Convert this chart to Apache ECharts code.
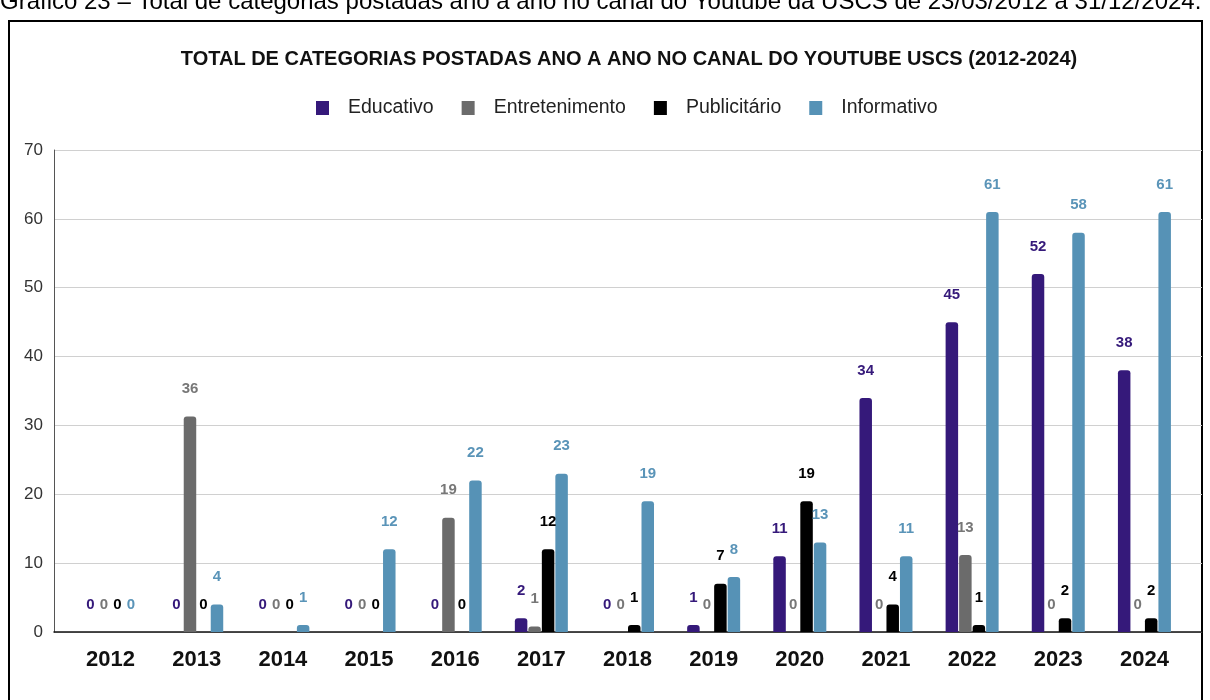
<!DOCTYPE html>
<html>
<head>
<meta charset="utf-8">
<script src="https://cdn.jsdelivr.net/npm/echarts@6/dist/echarts.min.js"></script>
<style>
html,body{margin:0;padding:0;background:#fff;}
#c{width:1210px;height:700px;}
</style>
</head>
<body>
<div id="c"></div>
<script>
const years = ['2012','2013','2014','2015','2016','2017','2018','2019','2020','2021','2022','2023','2024'];
const educativo      = [0, 0, 0, 0, 0, 2, 0, 1, 11, 34, 45, 52, 38];
const entretenimento = [0, 31.3, 0, 0, 16.6, 0.8, 0, 0, 0, 0, 11.2, 0, 0];
const entretenimentoLabels = ['0','36','0','0','19','1','0','0','0','0','13','0','0'];
const publicitario   = [0, 0, 0, 0, 0, 12, 1, 7, 19, 4, 1, 2, 2];
const informativo    = [0, 4, 1, 12, 22, 23, 19, 8, 13, 11, 61, 58, 61];
const yTicks = [0, 10, 20, 30, 40, 50, 60, 70];
const titleText = 'TOTAL DE CATEGORIAS POSTADAS ANO A ANO NO CANAL DO YOUTUBE USCS (2012-2024)';
const captionText = 'Gráfico 23 – Total de categorias postadas ano a ano no canal do Youtube da USCS de 23/03/2012 a 31/12/2024.';

const colors = ['#35197a', '#6b6b6b', '#000000', '#5692b6'];
const labelColors = ['#35197a', '#777777', '#000000', '#5a94b8'];
const names = ['Educativo', 'Entretenimento', 'Publicitário', 'Informativo'];
const dataSets = [educativo, entretenimento, publicitario, informativo];

const FONT = 'Liberation Sans, Arial, sans-serif';
const chart = echarts.init(document.getElementById('c'));

const series = dataSets.map((d, i) => ({
  name: names[i],
  type: 'bar',
  xAxisIndex: 1,
  yAxisIndex: 1,
  data: d,
  barWidth: 12.5,
  barGap: '8%',
  itemStyle: { color: colors[i], borderRadius: [3, 3, 0, 0] },
  label: {
    show: true,
    position: 'top',
    distance: 20,
    color: labelColors[i],
    fontFamily: FONT,
    fontWeight: 'bold',
    fontSize: 15,
    formatter: i === 1 ? (p => entretenimentoLabels[p.dataIndex]) : (p => String(p.value))
  }
}));

chart.setOption({
  animation: false,
  backgroundColor: '#fff',
  legend: {
    data: names,
    top: 93,
    left: 311,
    itemWidth: 13,
    itemHeight: 14,
    itemGap: 28,
    icon: 'rect',
    textStyle: { fontFamily: FONT, fontSize: 19.5, color: '#222', padding: [0, 0, 0, 14] }
  },
  grid: [
    { left: 54, right: 8, top: 150, bottom: 68, containLabel: false },
    { left: 67.5, right: 22.5, top: 150, bottom: 68, containLabel: false }
  ],
  xAxis: [
    { type: 'value', gridIndex: 0, min: 0, max: 1, axisLabel: { show: false }, axisTick: { show: false }, splitLine: { show: false },
      axisLine: { show: true, onZero: false, lineStyle: { color: '#111', width: 1.5 } } },
    { type: 'category', gridIndex: 1, data: years, axisLine: { show: false }, axisTick: { show: false },
      axisLabel: { fontFamily: FONT, fontWeight: 'bold', fontSize: 22, color: '#111', margin: 17 } }
  ],
  yAxis: [
    { type: 'value', gridIndex: 0, min: yTicks[0], max: yTicks[yTicks.length - 1], interval: 10,
      axisLine: { show: true, lineStyle: { color: '#555', width: 1 } }, axisTick: { show: false },
      axisLabel: { fontFamily: FONT, fontSize: 17, color: '#333', margin: 11 },
      splitLine: { show: true, lineStyle: { color: '#d0d0d0', width: 1 } } },
    { type: 'value', gridIndex: 1, min: yTicks[0], max: yTicks[yTicks.length - 1], interval: 10,
      show: false, splitLine: { show: false } }
  ],
  graphic: [
    { type: 'rect', shape: { x: 9, y: 21, width: 1193, height: 700 }, style: { fill: 'none', stroke: '#000', lineWidth: 2 }, silent: true },
    { type: 'text', x: 0, y: 14, style: { text: captionText, font: '24px ' + FONT, fill: '#000', textVerticalAlign: 'bottom' } },
    { type: 'text', x: 629, y: 59, style: { text: titleText, font: 'bold 20px ' + FONT, fill: '#111', textAlign: 'center', textVerticalAlign: 'middle' } }
  ],
  series: series
});
</script>
</body>
</html>
